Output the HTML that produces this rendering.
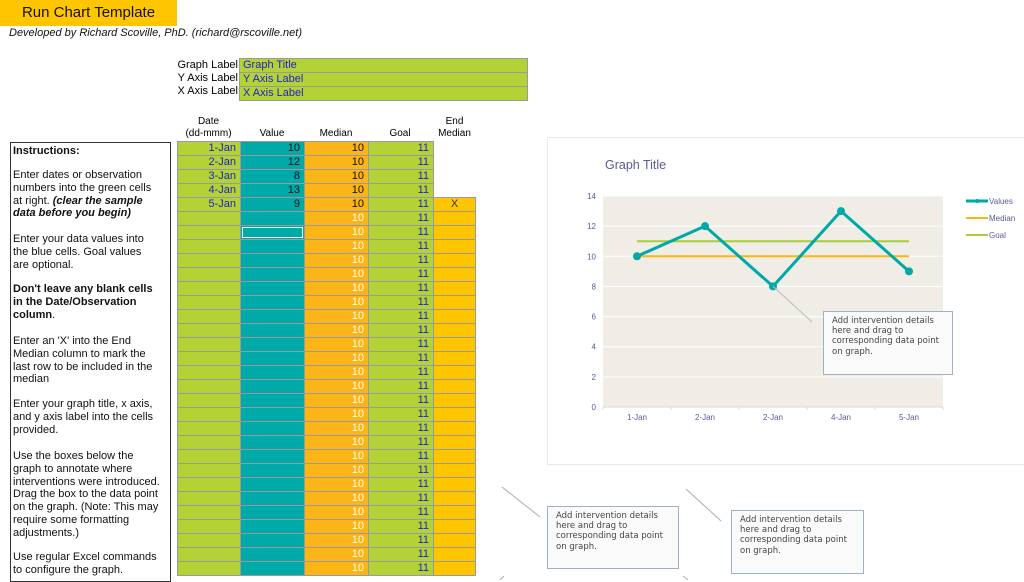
<!DOCTYPE html>
<html><head><meta charset="utf-8"><style>
body{margin:0;width:1024px;height:580px;overflow:hidden;background:#fff;font-family:"Liberation Sans",sans-serif;position:relative}
.a{position:absolute}
.hdr{font-size:10px;text-align:center;line-height:12px;color:#000}
.cell{position:absolute;height:13px;border:1px solid #9a9a9a;box-sizing:border-box;font-size:11px;text-align:right;padding-right:4px;line-height:12px}
.ins{position:absolute;left:13px;font-size:11px;line-height:12.8px;color:#111}
.note{position:absolute;background:#fafafa;border:1px solid #9fb0c4;font-family:"DejaVu Sans",sans-serif;font-size:8.5px;line-height:10.2px;color:#444;padding:4px 8px;box-sizing:border-box}
</style></head><body>
<div class="a" style="left:0;top:0;width:177px;height:26px;background:#ffc600;font-size:15px;line-height:26px;text-align:center;color:#111">Run Chart Template</div>
<div class="a" style="left:9px;top:27px;font-size:11px;font-style:italic;color:#111">Developed by Richard Scoville, PhD. (richard@rscoville.net)</div>

<div class="a" style="left:150px;top:59px;width:88px;text-align:right;font-size:11px;line-height:13px">Graph Label<br>Y Axis Label<br>X Axis Label</div>
<div class="cell" style="left:239px;top:58px;width:289px;height:15px;text-align:left;padding-left:3px;color:#2020d0;background:#b3d236">Graph Title</div>
<div class="cell" style="left:239px;top:72px;width:289px;height:15px;text-align:left;padding-left:3px;color:#2020d0;background:#b3d236">Y Axis Label</div>
<div class="cell" style="left:239px;top:86px;width:289px;height:15px;text-align:left;padding-left:3px;color:#2020d0;background:#b3d236">X Axis Label</div>

<div class="a hdr" style="left:177px;top:116px;width:63px">Date<br>(dd-mmm)</div>
<div class="a hdr" style="left:240px;top:128px;width:64px">Value</div>
<div class="a hdr" style="left:304px;top:128px;width:64px">Median</div>
<div class="a hdr" style="left:368px;top:128px;width:64px">Goal</div>
<div class="a hdr" style="left:433px;top:116px;width:43px">End<br>Median</div>
<div id="tbl"></div>

<div class="a" style="left:10px;top:142px;width:161px;height:440px;border:1px solid #333;box-sizing:border-box"></div>
<div class="ins" style="top:145px;font-weight:bold">Instructions:</div>
<div class="ins" style="top:169px">Enter dates or observation<br>numbers into the green cells<br>at right. <b><i>(clear the sample<br>data before you begin)</i></b></div>
<div class="ins" style="top:233px">Enter your data values into<br>the blue cells. Goal values<br>are optional.</div>
<div class="ins" style="top:283px"><b>Don't leave any blank cells<br>in the Date/Observation<br>column</b>.</div>
<div class="ins" style="top:335px">Enter an 'X' into the End<br>Median column to mark the<br>last row to be included in the<br>median</div>
<div class="ins" style="top:398px">Enter your graph title, x axis,<br>and y axis label into the cells<br>provided.</div>
<div class="ins" style="top:450px">Use the boxes below the<br>graph to annotate where<br>interventions were introduced.<br>Drag the box to the data point<br>on the graph. (Note: This may<br>require some formatting<br>adjustments.)</div>
<div class="ins" style="top:551px">Use regular Excel commands<br>to configure the graph.</div>

<div class="a" style="left:547px;top:137px;width:480px;height:328px;border:1px solid #e6e9ee;box-sizing:border-box"></div>
<svg class="a" style="left:0;top:0" width="1024" height="580" id="chart"></svg>

<div class="note" style="left:823px;top:311px;width:130px;height:64px">Add intervention details here and drag to corresponding data point on graph.</div>
<div class="note" style="left:547px;top:506px;width:132px;height:63px">Add intervention details here and drag to corresponding data point on graph.</div>
<div class="note" style="left:731px;top:510px;width:133px;height:64px">Add intervention details here and drag to corresponding data point on graph.</div>

<script>
const dates=["1-Jan","2-Jan","3-Jan","4-Jan","5-Jan"];
const values=[10,12,8,13,9];
const medianVals=[10,10,10,10,10];
const goalVals=[11,11,11,11,11];
const xLabels=["1-Jan","2-Jan","2-Jan","4-Jan","5-Jan"];
const yTicks=[0,2,4,6,8,10,12,14];

// table
const tbl=document.getElementById('tbl');
const cols=[{x:177,w:64,bg:'#b3d236',c:'#2020d0'},{x:240,w:65,bg:'#00aaa8',c:'#111'},{x:304,w:65,bg:'#fbb516',c:'#fff'},{x:368,w:66,bg:'#b3d236',c:'#2020d0'},{x:433,w:43,bg:'#ffc600',c:'#333'}];
const colNames=['date-cell','value-cell','median-cell','goal-cell','end-median-cell'];
for(let r=0;r<31;r++){
  const y=141+r*14;
  for(let c=0;c<5;c++){
    if(c===4&&r<4)continue;
    const d=document.createElement('div');
    d.className='cell';
    
    
    d.style.left=cols[c].x+'px';d.style.top=y+'px';d.style.width=cols[c].w+'px';d.style.height='15px';
    d.style.background=cols[c].bg;d.style.color=cols[c].c;
    let t='';
    if(c===0&&r<5)t=dates[r];
    if(c===1&&r<5)t=values[r];
    if(c===2){t=r<5?medianVals[r]:10;if(r<5)d.style.color='#111';}
    if(c===3)t=r<5?goalVals[r]:11;
    if(c===4&&r===4){t='X';d.style.textAlign='center';d.style.paddingRight='0';}
    if(c===1&&r===6){d.style.outline='1px solid #fff';d.style.outlineOffset='-3px';}
    d.textContent=t;
    tbl.appendChild(d);
  }
}

// chart
const svg=document.getElementById('chart');
const NS='http://www.w3.org/2000/svg';
const L=603,R=943,T=196,B=407,yMax=14;
const band=(R-L)/xLabels.length;
const xs=i=>L+band*(i+0.5);
const ys=v=>B-(v/yMax)*(B-T);
function el(n,a,name){const e=document.createElementNS(NS,n);for(const k in a)e.setAttribute(k,a[k]);
 
 
 svg.appendChild(e);return e;}
el('text',{x:605,y:169,'font-size':12.5,fill:'#5a5a9a','font-family':'Liberation Sans'},'chart-title').textContent='Graph Title';
el('rect',{x:L,y:T,width:R-L,height:B-T,fill:'#f0ede7'},'plot-area');
yTicks.forEach(v=>{
  if(v>0)el('line',{x1:L,x2:R,y1:ys(v),y2:ys(v),stroke:'#fff','stroke-width':1},'gridline');
  const t=el('text',{x:596,y:ys(v)+3,'font-size':8,fill:'#5a5a9a','text-anchor':'end','font-family':'Liberation Sans'},'y-tick-label');t.textContent=v;
});
el('line',{x1:L,x2:R,y1:B,y2:B,stroke:'#d8d8d8'},'x-axis');
for(let i=0;i<=xLabels.length;i++)el('line',{x1:L+band*i,x2:L+band*i,y1:B,y2:B+3,stroke:'#d8d8d8'},'x-tick');
xLabels.forEach((l,i)=>{const t=el('text',{x:xs(i),y:420,'font-size':8,fill:'#5a5a9a','text-anchor':'middle','font-family':'Liberation Sans'},'x-tick-label');t.textContent=l;});
el('polyline',{points:goalVals.map((v,i)=>xs(i)+','+ys(v)).join(' '),fill:'none',stroke:'#a9cc3a','stroke-width':2},'goal-line');
el('polyline',{points:medianVals.map((v,i)=>xs(i)+','+ys(v)).join(' '),fill:'none',stroke:'#fbb516','stroke-width':2},'median-line');
el('polyline',{points:values.map((v,i)=>xs(i)+','+ys(v)).join(' '),fill:'none',stroke:'#00a9a8','stroke-width':3},'values-line');
values.forEach((v,i)=>el('circle',{cx:xs(i),cy:ys(v),r:4,fill:'#00a9a8'},'value-point'));
// leader lines
el('line',{x1:xs(2),y1:ys(8),x2:812,y2:322,stroke:'#bbb'},'annotation-leader');
el('line',{x1:502,y1:487,x2:540,y2:517,stroke:'#aab'},'annotation-leader-1');
el('line',{x1:686,y1:489,x2:721,y2:521,stroke:'#aab'},'annotation-leader-2');
el('line',{x1:500,y1:580,x2:504,y2:576,stroke:'#aab'},'annotation-leader-3');
el('line',{x1:683,y1:576,x2:688,y2:580,stroke:'#aab'},'annotation-leader-4');
// legend
const leg=[['Values','#00a9a8',3],['Median','#fbb516',2],['Goal','#a9cc3a',2]];
leg.forEach((g,i)=>{const y=201+i*17;
 el('line',{x1:966,x2:988,y1:y,y2:y,stroke:g[1],'stroke-width':g[2]},'legend-swatch');
 if(i===0)el('circle',{cx:977,cy:y,r:2,fill:g[1]},'legend-marker');
 const t=el('text',{x:989,y:y+3,'font-size':8,fill:'#5a5a9a','font-family':'Liberation Sans'},'legend-entry');t.textContent=g[0];});
</script>
</body></html>
